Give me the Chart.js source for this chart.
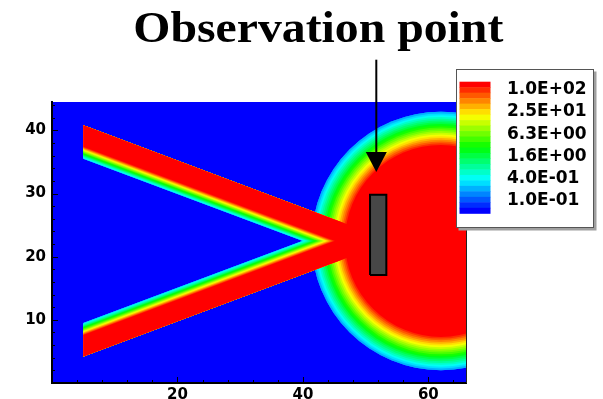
<!DOCTYPE html>
<html>
<head>
<meta charset="utf-8">
<script src="https://cdn.jsdelivr.net/npm/chart.js@4.4.1/dist/chart.umd.min.js"></script>
<style>
  html, body { margin: 0; padding: 0; background: #fff; }
  canvas { display: block; }
</style>
</head>
<body>
<canvas id="field" width="603" height="399"></canvas>
<script>
// contour bands, 0 = background (lowest level), 23 = top level
const NB = 24;

const xTicks = [20, 40, 60];
const yTicks = [10, 20, 30, 40];
const legendLabels = ['1.0E+02', '2.5E+01', '6.3E+00', '1.6E+00', '4.0E-01', '1.0E-01'];

// radial source: radius of the region at or above each band (bands 1..23)
const sourceCenter = [62, 22.5];
const ringRadii = [20.6, 20.6, 20.6, 20.6, 20.32, 20.04, 19.76, 19.48, 19.2, 18.92, 18.64, 18.36,
                   18.08, 17.8, 17.52, 17.24, 16.96, 16.68, 16.4, 16.12, 15.84, 15.56, 15.3];

// the two beams: sharp outer edge, graded inner edge
const upperBeamOuter = [[5, 40.8], [48, 24.8]];
const upperBeamInner = [[5, 35.5], [48, 19.5]];
const lowerBeamOuter = [[5, 4.2], [48, 20.2]];
const lowerBeamInner = [[5, 9.5], [48, 25.5]];
// how far each band sits in from the inner edge (bands 1..23)
const beamDepth = [0, 0, 0, 0, 0, 0.1, 0.2, 0.32, 0.43, 0.54, 0.65, 0.76, 0.87, 0.98, 1.09,
                   1.2, 1.3, 1.41, 1.51, 1.61, 1.71, 1.81, 1.9];

const probeBox = [[50.7, 17.1], [53.3, 17.1], [53.3, 29.8], [50.7, 29.8], [50.7, 17.1]];
const arrowFrom = [51.7, 51.2];
const arrowTo = [51.7, 33.4];

const rainbow = [[0, 0, 255], [0, 255, 255], [0, 255, 0], [255, 255, 0], [255, 0, 0]];
function bandColor(k) {
  const t = k / (NB - 1) * (rainbow.length - 1);
  const i = Math.min(Math.floor(t), rainbow.length - 2);
  const f = t - i;
  const c = rainbow[i].map((v, j) => Math.round(v + (rainbow[i + 1][j] - v) * f));
  return `rgb(${c})`;
}

function beamBand(outer, inner, d) {
  const s = Math.sign(outer[0][1] - inner[0][1]);
  const pts = [
    {x: outer[0][0], y: outer[0][1]},
    {x: outer[1][0], y: outer[1][1]},
    {x: inner[1][0], y: inner[1][1] + s * d},
    {x: inner[0][0], y: inner[0][1] + s * d}
  ];
  pts.push(pts[0]);
  return pts;
}

function polygon(data, color, order) {
  return {
    type: 'line', data, order, clip: 0,
    backgroundColor: color, borderColor: color, borderWidth: 0,
    pointRadius: 0, fill: 'shape', tension: 0
  };
}

// each band is drawn as the region at or above it, lowest first, so the highest wins
const datasets = [];
for (let k = 1; k < NB; k++) {
  const color = bandColor(k);
  const r = ringRadii[k - 1];
  const d = beamDepth[k - 1];
  datasets.push({
    type: 'scatter',
    data: [{x: sourceCenter[0], y: sourceCenter[1]}],
    order: NB - k, clip: 0, showLine: false,
    pointBackgroundColor: color, pointBorderWidth: 0,
    pointRadius: (ctx) => {
      const sx = ctx.chart.scales.x;
      return sx.getPixelForValue(sourceCenter[0] + r) - sx.getPixelForValue(sourceCenter[0]);
    }
  });
  datasets.push(polygon(beamBand(upperBeamOuter, upperBeamInner, d), color, NB - k));
  datasets.push(polygon(beamBand(lowerBeamOuter, lowerBeamInner, d), color, NB - k));
}
datasets.push({
  type: 'line', order: 0, clip: 0,
  data: probeBox.map(p => ({x: p[0], y: p[1]})),
  backgroundColor: '#474747', borderColor: '#000', borderWidth: 2,
  pointRadius: 0, fill: 'shape', tension: 0
});

const tickFont = {family: '"DejaVu Sans"', size: 15, weight: 'bold'};

const decorations = {
  id: 'decorations',
  beforeDatasetsDraw(chart) {
    const {ctx, chartArea: a} = chart;
    ctx.save();
    ctx.fillStyle = bandColor(0);
    ctx.fillRect(a.left, a.top, a.right - a.left, a.bottom - a.top);
    ctx.restore();
  },
  afterDraw(chart) {
    const {ctx, chartArea: a, scales: {x, y}} = chart;
    ctx.save();

    // inward tick marks
    ctx.strokeStyle = '#000';
    ctx.lineWidth = 1;
    ctx.beginPath();
    for (let v = 4; v < 66; v += 4) {
      const px = Math.round(x.getPixelForValue(v)) + 0.5;
      const len = v % 20 === 0 ? 6 : 3;
      ctx.moveTo(px, a.bottom);
      ctx.lineTo(px, a.bottom - len);
    }
    for (let v = 2; v < 44.5; v += 2) {
      const py = Math.round(y.getPixelForValue(v)) + 0.5;
      const len = v % 10 === 0 ? 6 : 3;
      ctx.moveTo(a.left, py);
      ctx.lineTo(a.left + len, py);
    }
    ctx.stroke();

    // right frame line
    ctx.strokeStyle = '#222';
    ctx.beginPath();
    ctx.moveTo(Math.round(a.right) + 0.5, a.top);
    ctx.lineTo(Math.round(a.right) + 0.5, a.bottom);
    ctx.stroke();

    // arrow to the probe
    const ax = x.getPixelForValue(arrowFrom[0]);
    const ay0 = y.getPixelForValue(arrowFrom[1]);
    const ay1 = y.getPixelForValue(arrowTo[1]);
    ctx.strokeStyle = '#000';
    ctx.lineWidth = 2;
    ctx.beginPath();
    ctx.moveTo(ax, ay0);
    ctx.lineTo(ax, ay1 - 18);
    ctx.stroke();
    ctx.fillStyle = '#000';
    ctx.beginPath();
    ctx.moveTo(ax - 10.5, ay1 - 20);
    ctx.lineTo(ax + 10.5, ay1 - 20);
    ctx.lineTo(ax, ay1);
    ctx.closePath();
    ctx.fill();

    // title
    ctx.font = 'bold 44px "Liberation Serif"';
    const title = 'Observation point';
    const w = ctx.measureText(title).width;
    ctx.save();
    ctx.translate(318.3, 41.5);
    ctx.scale(370 / w, 1);
    ctx.textAlign = 'center';
    ctx.textBaseline = 'alphabetic';
    ctx.fillText(title, 0, 0);
    ctx.restore();

    // colour legend
    const bl = 456.5, bt = 69.5, bw = 137, bh = 158;
    ctx.fillStyle = '#a0a0a0';
    ctx.fillRect(bl + 2, bt + 2, bw + 1, bh + 1);
    ctx.fillStyle = '#fff';
    ctx.fillRect(bl, bt, bw, bh);
    ctx.strokeStyle = '#555';
    ctx.lineWidth = 1;
    ctx.strokeRect(bl, bt, bw, bh);

    const barL = 459.5, barT = 81.7, barW = 31, barH = 131.6;
    const step = barH / NB;
    for (let i = 0; i < NB; i++) {
      ctx.fillStyle = bandColor(NB - 1 - i);
      ctx.fillRect(barL, barT + i * step, barW, step + 0.5);
    }
    ctx.fillStyle = '#000';
    ctx.font = 'bold 17px "DejaVu Sans"';
    ctx.textAlign = 'left';
    ctx.textBaseline = 'middle';
    legendLabels.forEach((s, i) => ctx.fillText(s, 507, 89.8 + 22.2 * i));

    ctx.restore();
  }
};

new Chart(document.getElementById('field'), {
  type: 'scatter',
  data: {datasets},
  options: {
    responsive: false,
    devicePixelRatio: 1,
    animation: false,
    events: [],
    layout: {padding: {left: 0, top: 102, right: 137, bottom: 0}},
    plugins: {legend: {display: false}, tooltip: {enabled: false}, title: {display: false}},
    scales: {
      x: {
        type: 'linear', min: 0, max: 66, z: 1,
        grid: {display: false, drawTicks: false},
        border: {display: true, color: '#000', width: 2, z: 1},
        ticks: {font: tickFont, color: '#000', padding: 3, maxRotation: 0, autoSkip: false},
        afterBuildTicks: (s) => { s.ticks = xTicks.map(v => ({value: v})); },
        afterFit: (s) => { s.height = 16; }
      },
      y: {
        type: 'linear', min: 0, max: 44.5, z: 1,
        grid: {display: false, drawTicks: false},
        border: {display: true, color: '#000', width: 2, z: 1},
        ticks: {font: tickFont, color: '#000', padding: 6, autoSkip: false},
        afterBuildTicks: (s) => { s.ticks = yTicks.map(v => ({value: v})); },
        afterFit: (s) => { s.width = 52; }
      }
    }
  },
  plugins: [decorations]
});
</script>
</body>
</html>
